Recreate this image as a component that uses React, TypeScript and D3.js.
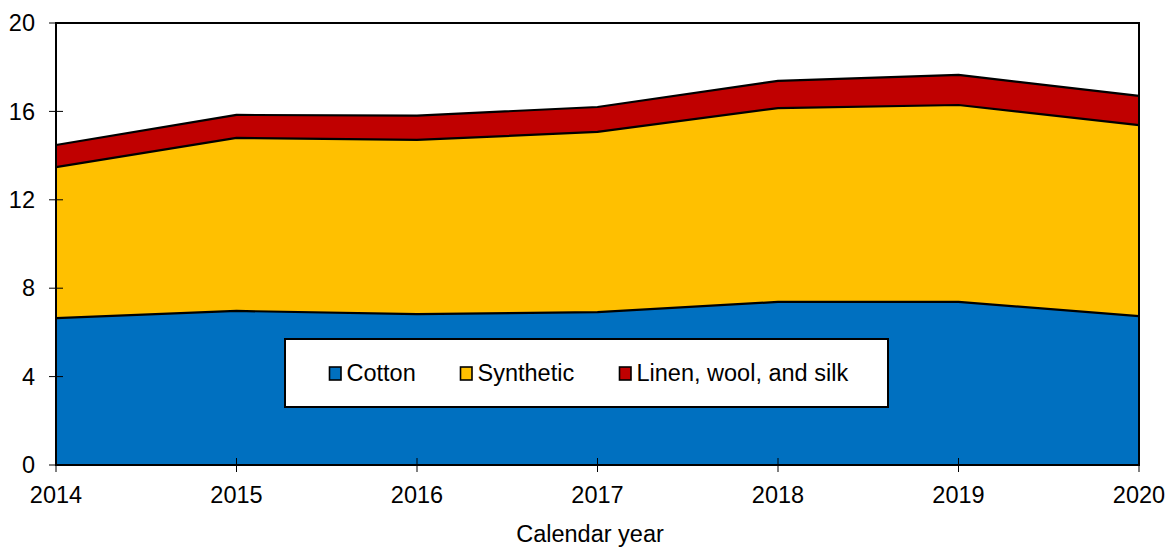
import React from "react";
import * as d3 from "d3";

const years = [2014, 2015, 2016, 2017, 2018, 2019, 2020];
const cotton = [6.65, 6.97, 6.83, 6.92, 7.38, 7.38, 6.74];
const synthetic = [6.83, 7.83, 7.88, 8.15, 8.77, 8.91, 8.64];
const linenWoolSilk = [1.0, 1.04, 1.1, 1.13, 1.23, 1.36, 1.32];
const seriesNames = ["Cotton", "Synthetic", "Linen, wool, and silk"];
const seriesColors = ["#0070C0", "#FFC000", "#C00000"];
const yTicks = [0, 4, 8, 12, 16, 20];
const xTitle = "Calendar year";

const W = 1167;
const H = 548;
const left = 56;
const right = 1139;
const top = 23;
const bottom = 465;
const FONT = "'Liberation Sans', Arial, sans-serif";

export default function App() {
  const x = d3.scaleLinear().domain([2014, 2020]).range([left, right]);
  const y = d3.scaleLinear().domain([0, 20]).range([bottom, top]);

  const rows = years.map((yr, i) => ({
    year: yr,
    "Cotton": cotton[i],
    "Synthetic": synthetic[i],
    "Linen, wool, and silk": linenWoolSilk[i],
  }));
  const stacked = d3.stack<any>().keys(seriesNames)(rows);

  const area = d3
    .area<any>()
    .x((d) => x(d.data.year))
    .y0((d) => y(d[0]))
    .y1((d) => y(d[1]));
  const topLine = d3
    .line<any>()
    .x((d) => x(d.data.year))
    .y((d) => y(d[1]));

  // legend entry positions (swatch left edges)
  const legendX = [329.5, 460.5, 619.5];

  return (
    <svg
      width={W}
      height={H}
      style={{ position: "absolute", left: 0, top: 0, display: "block" }}
      fontFamily={FONT}
    >
      <rect x={0} y={0} width={W} height={H} fill="#fff" />
      {stacked.map((s, i) => (
        <path key={"a" + i} d={area(s) || ""} fill={seriesColors[i]} />
      ))}
      {stacked.map((s, i) => (
        <path
          key={"l" + i}
          d={topLine(s) || ""}
          fill="none"
          stroke="#000"
          strokeWidth={2.2}
          strokeLinejoin="round"
        />
      ))}
      {/* plot frame */}
      <rect
        x={left}
        y={top}
        width={right - left}
        height={bottom - top}
        fill="none"
        stroke="#000"
        strokeWidth={2}
      />
      {/* y axis ticks and labels */}
      {yTicks.map((t) => (
        <g key={"y" + t}>
          <line x1={left - 7} x2={left + 7} y1={y(t)} y2={y(t)} stroke="#000" strokeWidth={1} />
          <text x={35} y={y(t)} dy="0.35em" textAnchor="end" fontSize={23.5} fill="#000">
            {t}
          </text>
        </g>
      ))}
      {/* x axis ticks and labels */}
      {years.map((yr) => (
        <g key={"x" + yr}>
          <line x1={x(yr)} x2={x(yr)} y1={bottom - 7} y2={bottom + 7} stroke="#000" strokeWidth={1} />
          <text x={x(yr)} y={502.5} textAnchor="middle" fontSize={23.5} fill="#000">
            {yr}
          </text>
        </g>
      ))}
      <text x={590} y={542} textAnchor="middle" fontSize={23.5} fill="#000">
        {xTitle}
      </text>
      {/* legend */}
      <rect x={285} y={339} width={603} height={68} fill="#fff" stroke="#000" strokeWidth={2} />
      {seriesNames.map((name, i) => (
        <g key={"lg" + i}>
          <rect
            x={legendX[i]}
            y={367}
            width={11.5}
            height={13}
            fill={seriesColors[i]}
            stroke="#000"
            strokeWidth={1.6}
          />
          <text x={legendX[i] + 17} y={381} fontSize={23.5} fill="#000">
            {name}
          </text>
        </g>
      ))}
    </svg>
  );
}
